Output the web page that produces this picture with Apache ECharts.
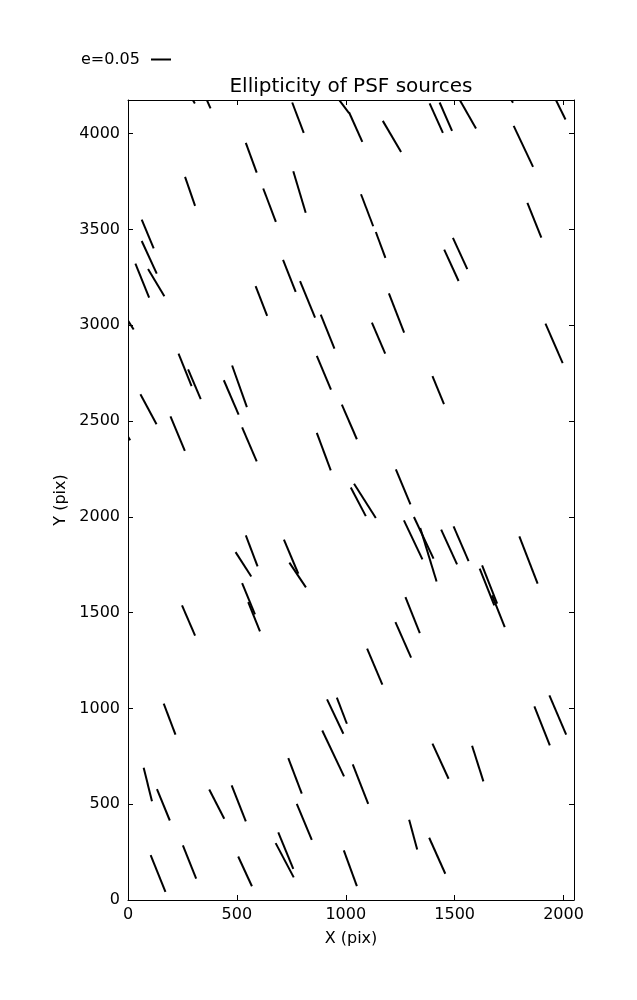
<!DOCTYPE html>
<html>
<head>
<meta charset="utf-8">
<script src="https://cdn.jsdelivr.net/npm/echarts@6/dist/echarts.min.js"></script>
<style>html,body{margin:0;padding:0;background:#fff;}#chart{width:637px;height:1000px;}</style>
</head>
<body>
<div id="chart"></div>
<script>
// Whisker end points of the PSF ellipticity sticks (data units, pix)
var x0 = [279,344,754,946,1015,1170,1385,1431,1512,1737,1954,1771,541,262,621,759,63,63,34,92,712,790,586,1070,1138,1452,1492,1834,1198,885,-34,232,276,57,195,440,478,524,867,867,982,-20,1120,1917,1398,1023,1038,1230,541,494,716,741,524,552,248,164,914,959,1267,1313,1342,1438,1495,1797,1615,1626,1672,1274,1228,1098,1866,1935,892,72,133,373,476,736,775,104,252,506,690,678,991,1032,1398,1580,1291,1383];
var y0 = [4212,4222,4163,4212,4112,4067,4158,4163,4199,4217,4201,4041,3952,3775,3714,3804,3552,3440,3322,3294,3341,3231,3204,3684,3487,3395,3456,3639,3167,3056,3084,2852,2770,2640,2525,2713,2790,2467,2840,2438,2586,2457,3014,3009,2735,2153,2173,2248,1903,1816,1881,1761,1654,1555,1538,1025,1047,1056,1982,1999,1942,1933,1950,1898,1730,1747,1590,1581,1451,1312,1011,1068,885,690,579,577,598,741,502,234,285,227,353,297,259,708,816,805,419,325];
var x1 = [307,379,807,1015,1076,1254,1446,1488,1598,1768,2009,1860,591,308,679,816,118,132,97,167,770,859,639,1126,1182,1518,1558,1898,1268,948,26,292,334,131,261,508,546,591,932,931,1051,10,1181,1996,1451,1092,1138,1297,595,566,782,817,583,606,308,218,989,1005,1352,1403,1417,1511,1564,1881,1682,1695,1730,1340,1300,1168,1937,2012,992,110,192,442,541,798,844,172,313,569,759,761,1051,1103,1472,1632,1328,1457];
var y1 = [4158,4132,4004,4107,3957,3905,4004,4015,4027,4162,4074,3827,3797,3623,3540,3587,3401,3270,3145,3152,3174,3040,3049,3517,3352,3231,3293,3458,2962,2878,2978,2682,2615,2483,2344,2534,2573,2290,2664,2243,2405,2400,2852,2803,2588,2004,1994,2065,1742,1689,1703,1632,1491,1402,1380,863,868,920,1778,1782,1663,1752,1769,1651,1538,1547,1425,1393,1265,1124,807,863,645,516,415,424,410,555,314,43,111,72,163,118,72,502,633,619,264,137];
var xTicks = [0, 500, 1000, 1500, 2000];
var yTicks = [0, 500, 1000, 1500, 2000, 2500, 3000, 3500, 4000];
var xMax = 2048, yMax = 4176;
var titleText = 'Ellipticity of PSF sources';
var keyText = 'e=0.05';

var FONT = 'DejaVu Sans';
var data = x0.map(function (v, i) { return [v, y0[i], x1[i], y1[i]]; });

var chart = echarts.init(document.getElementById('chart'));
var baseAxis = {
  axisLine: { show: true, onZero: false, lineStyle: { color: '#000', width: 1 } },
  axisTick: { show: true, inside: true, length: 5, lineStyle: { color: '#000', width: 1 } },
  splitLine: { show: false },
  axisLabel: { show: false }
};
function mk(extra) { return echarts.util.merge(echarts.util.clone(baseAxis), extra, true); }

chart.setOption({
  animation: false,
  backgroundColor: '#fff',
  grid: { left: 128, right: 63, top: 100, bottom: 100, outerBoundsMode: 'none', containLabel: false },
  xAxis: [
    mk({ type: 'value', position: 'bottom', min: 0, max: xMax, interval: 500,
      name: 'X (pix)', nameLocation: 'middle', nameGap: 31,
      nameTextStyle: { color: '#000', fontSize: 16, fontFamily: FONT },
      axisLabel: { show: true, color: '#000', fontSize: 16, fontFamily: FONT, margin: 7, showMaxLabel: false,
        formatter: function (v) { return xTicks.indexOf(v) >= 0 ? String(v) : ''; } } }),
    mk({ type: 'value', position: 'top', min: 0, max: xMax, interval: 500 })
  ],
  yAxis: [
    mk({ type: 'value', position: 'left', min: 0, max: yMax, interval: 500,
      name: 'Y (pix)', nameLocation: 'middle', nameGap: 51, nameRotate: 90,
      nameTextStyle: { color: '#000', fontSize: 16, fontFamily: FONT },
      axisLabel: { show: true, color: '#000', fontSize: 16, fontFamily: FONT, margin: 8, showMaxLabel: false,
        formatter: function (v) { return yTicks.indexOf(v) >= 0 ? String(v) : ''; } } }),
    mk({ type: 'value', position: 'right', min: 0, max: yMax, interval: 500 })
  ],
  graphic: [
    { type: 'text', x: 351, y: 87,
      style: { text: titleText, fill: '#000', font: '20px "DejaVu Sans"', align: 'center', verticalAlign: 'middle' } },
    { type: 'text', x: 81, y: 60,
      style: { text: keyText, fill: '#000', font: '16px "DejaVu Sans"', align: 'left', verticalAlign: 'middle' } },
    { type: 'line', shape: { x1: 151, y1: 59.5, x2: 171, y2: 59.5 }, style: { stroke: '#000', lineWidth: 2 } }
  ],
  series: [{
    type: 'custom',
    name: keyText,
    coordinateSystem: 'cartesian2d',
    clip: true,
    encode: { x: [0, 2], y: [1, 3] },
    data: data,
    renderItem: function (params, api) {
      var a = api.coord([api.value(0), api.value(1)]);
      var b = api.coord([api.value(2), api.value(3)]);
      return { type: 'line', shape: { x1: a[0], y1: a[1], x2: b[0], y2: b[1] },
        style: { stroke: '#000', lineWidth: 2 } };
    }
  }]
});
</script>
</body>
</html>
